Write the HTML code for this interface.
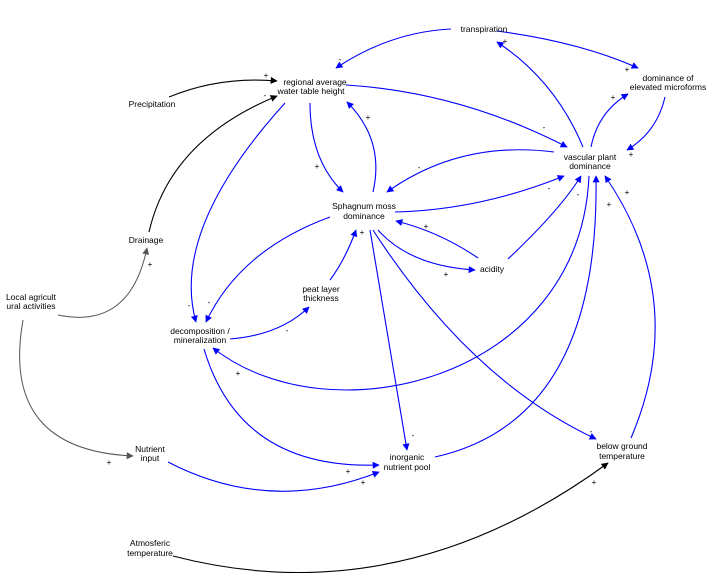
<!DOCTYPE html>
<html><head><meta charset="utf-8"><style>
html,body{margin:0;padding:0;background:#fff;}
svg{display:block}
text{font-family:"Liberation Sans",Arial,sans-serif;font-size:8.5px;fill:#000;text-anchor:middle}
.l{font-size:8px}
</style></head><body>
<svg width="721" height="588" viewBox="0 0 721 588" xmlns="http://www.w3.org/2000/svg">
<defs>
<marker id="b" viewBox="0 0 10 10" refX="9" refY="5" markerWidth="10" markerHeight="7" orient="auto" markerUnits="userSpaceOnUse"><path d="M0,0L10,5L0,10z" fill="#0000ff"/></marker>
<marker id="k" viewBox="0 0 10 10" refX="9" refY="5" markerWidth="10" markerHeight="7" orient="auto" markerUnits="userSpaceOnUse"><path d="M0,0L10,5L0,10z" fill="#000"/></marker>
<marker id="g" viewBox="0 0 10 10" refX="9" refY="5" markerWidth="10" markerHeight="7" orient="auto" markerUnits="userSpaceOnUse"><path d="M0,0L10,5L0,10z" fill="#555"/></marker>
</defs>
<g fill="none" stroke="#0000ff" stroke-width="1.1" marker-end="url(#b)">
<path d="M451,29 Q390,32 336,68"/>
<path d="M497,31 Q580,42 638,68"/>
<path d="M583,147 Q555,80 497,42"/>
<path d="M591,147 Q598,112 628,94"/>
<path d="M665,97 Q657,132 627,150"/>
<path d="M346,85 Q460,92 567,147"/>
<path d="M310,103 Q310,160 343,192"/>
<path d="M373,192 Q385,140 347,102"/>
<path d="M554,152 Q460,140 387,192"/>
<path d="M395,212 Q480,210 564,176"/>
<path d="M478,258 Q440,232 396,221"/>
<path d="M378,230 Q410,266 475,270"/>
<path d="M508,259 Q560,210 581,176"/>
<path d="M285,103 Q170,230 196,322"/>
<path d="M330,217 Q240,250 206,322"/>
<path d="M230,339 Q280,335 309,307"/>
<path d="M330,280 Q345,260 356,230"/>
<path d="M589,176 C580,380 330,440 213,348"/>
<path d="M370,230 L407,450"/>
<path d="M373,230 Q470,380 596,439"/>
<path d="M435,457 Q600,420 596,176"/>
<path d="M631,438 Q690,300 605,176"/>
<path d="M204,349 Q240,470 379,465"/>
<path d="M168,462 Q270,515 379,472"/>
</g>
<path d="M169,97 Q220,76 277,81" fill="none" stroke="#000" stroke-width="1.1" marker-end="url(#k)"/>
<path d="M149,232 Q170,140 277,96" fill="none" stroke="#000" stroke-width="1.1" marker-end="url(#k)"/>
<path d="M173,556 Q400,615 608,463" fill="none" stroke="#000" stroke-width="1.1" marker-end="url(#k)"/>
<path d="M58,315 Q130,330 147,248" fill="none" stroke="#555" stroke-width="1" marker-end="url(#g)"/>
<path d="M23,320 Q0,450 133,456" fill="none" stroke="#555" stroke-width="1" marker-end="url(#g)"/>
<g>
<text x="484" y="32">transpiration</text>
<text x="315" y="85">regional average</text><text x="311" y="94">water table height</text>
<text x="152" y="107">Precipitation</text>
<text x="668" y="81">dominance of</text><text x="668" y="90">elevated microforms</text>
<text x="590" y="160">vascular plant</text><text x="590" y="169">dominance</text>
<text x="364" y="209">Sphagnum moss</text><text x="364" y="219">dominance</text>
<text x="146" y="243">Drainage</text>
<text x="492" y="272">acidity</text>
<text x="321" y="292">peat layer</text><text x="321" y="301">thickness</text>
<text x="31" y="300">Local agricult</text><text x="31" y="309">ural activities</text>
<text x="200" y="334">decomposition /</text><text x="200" y="343">mineralization</text>
<text x="150" y="452">Nutrient</text><text x="150" y="461">input</text>
<text x="407" y="460">inorganic</text><text x="407" y="470">nutrient pool</text>
<text x="622" y="449">below ground</text><text x="622" y="459">temperature</text>
<text x="150" y="546">Atmosferic</text><text x="150" y="556">temperature</text>
</g>
<g class="l">
<text class="l" x="340" y="62">-</text><text class="l" x="627" y="72">+</text>
<text class="l" x="505" y="44">+</text><text class="l" x="613" y="100">+</text>
<text class="l" x="631" y="157">+</text><text class="l" x="266" y="78">+</text>
<text class="l" x="265" y="98">-</text><text class="l" x="544" y="130">-</text>
<text class="l" x="317" y="169">+</text><text class="l" x="368" y="120">+</text>
<text class="l" x="419" y="170">-</text><text class="l" x="549" y="191">-</text>
<text class="l" x="426" y="229">+</text><text class="l" x="446" y="277">+</text>
<text class="l" x="578" y="197">-</text><text class="l" x="189" y="308">-</text>
<text class="l" x="209" y="305">-</text><text class="l" x="287" y="333">-</text>
<text class="l" x="362" y="235">+</text><text class="l" x="238" y="376">+</text>
<text class="l" x="413" y="438">-</text><text class="l" x="591" y="434">-</text>
<text class="l" x="609" y="207">+</text><text class="l" x="627" y="195">+</text>
<text class="l" x="348" y="474">+</text><text class="l" x="363" y="485">+</text>
<text class="l" x="150" y="267">+</text><text class="l" x="109" y="465">+</text>
<text class="l" x="594" y="485">+</text>
</g>
</svg>
</body></html>
